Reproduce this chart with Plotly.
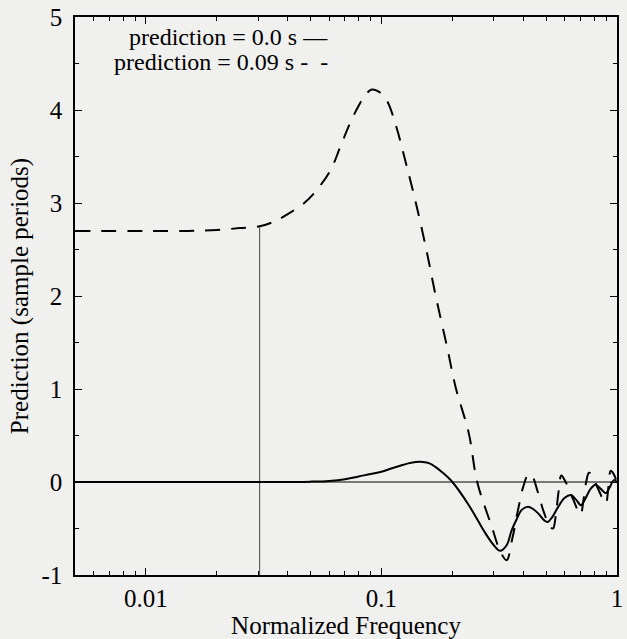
import plotly.graph_objects as go

# Solid curve: prediction = 0.0 s
f_solid = [0.005, 0.02, 0.03, 0.04, 0.05, 0.06, 0.07, 0.08, 0.09, 0.1, 0.11, 0.12, 0.13, 0.14,
           0.15, 0.16, 0.17, 0.18, 0.2, 0.235, 0.276, 0.3, 0.319, 0.34, 0.357, 0.375, 0.394,
           0.419, 0.44, 0.464, 0.49, 0.508, 0.53, 0.562, 0.6, 0.638, 0.67, 0.703, 0.73, 0.77,
           0.81, 0.85, 0.897, 0.93, 0.97, 1.0]
v_solid = [0.0, 0.0, 0.0, 0.001, 0.004, 0.012, 0.03, 0.06, 0.085, 0.11, 0.145, 0.175, 0.2, 0.215,
           0.215, 0.2, 0.16, 0.11, 0.0, -0.25, -0.55, -0.68, -0.74, -0.68, -0.52, -0.4, -0.3,
           -0.265, -0.29, -0.34, -0.41, -0.43, -0.38, -0.27, -0.17, -0.14, -0.19, -0.25, -0.19, -0.08,
           -0.03, -0.07, -0.12, -0.06, 0.02, 0.0]

# Dashed curve: prediction = 0.09 s
f_dash = [0.005, 0.01, 0.015, 0.02, 0.025, 0.0304, 0.035, 0.04, 0.047, 0.0516, 0.0607, 0.0668,
          0.0736, 0.081, 0.086, 0.091, 0.097, 0.105, 0.1156, 0.127, 0.14, 0.155, 0.17, 0.19,
          0.2065, 0.235, 0.255, 0.294, 0.32, 0.34, 0.36, 0.38, 0.40, 0.42, 0.435, 0.46, 0.49,
          0.52, 0.535, 0.55, 0.565, 0.58, 0.60, 0.65, 0.70, 0.72, 0.74, 0.76, 0.78, 0.84, 0.895,
          0.92, 0.94, 0.96, 1.0]
v_dash = [2.7, 2.7, 2.7, 2.71, 2.73, 2.75, 2.8, 2.88, 3.0, 3.1, 3.35, 3.6,
          3.86, 4.07, 4.17, 4.22, 4.2, 4.11, 3.82, 3.43, 3.0, 2.5, 2.0, 1.45,
          1.02, 0.52, 0.0, -0.48, -0.75, -0.84, -0.6, -0.3, -0.05, 0.08, 0.07, -0.1, -0.33,
          -0.48, -0.5, -0.35, -0.1, 0.07, 0.02, -0.18, -0.35, -0.2, 0.0, 0.1, 0.08, -0.1, -0.23,
          -0.05, 0.12, 0.1, 0.0]

# Vertical marker line and zero line
f_marker = [0.0304, 0.0304]
v_marker = [-1, 2.75]
f_zero = [0.005, 1.0]
v_zero = [0, 0]

x_ticks = [0.01, 0.1, 1]
x_ticktext = ["0.01", "0.1", "1"]
x_minor = [0.006, 0.007, 0.008, 0.009, 0.02, 0.03, 0.04, 0.05, 0.06, 0.07, 0.08, 0.09,
           0.2, 0.3, 0.4, 0.5, 0.6, 0.7, 0.8, 0.9]
y_ticks = [-1, 0, 1, 2, 3, 4, 5]
y_ticktext = ["-1", "0", "1", "2", "3", "4", "5"]
y_minor = [-0.5, 0.5, 1.5, 2.5, 3.5, 4.5]

legend_lines = ["prediction = 0.0 s \u2014", "prediction = 0.09 s -  -"]

FONT = "Liberation Serif, Times New Roman, serif"
BG = "#f0f0ef"
FS = 25
FS_LEG = 24

fig = go.Figure()
fig.add_trace(go.Scatter(x=f_zero, y=v_zero, mode="lines",
                         line=dict(color="black", width=1.2), showlegend=False, hoverinfo="skip"))
fig.add_trace(go.Scatter(x=f_marker, y=v_marker, mode="lines",
                         line=dict(color="#444444", width=1), showlegend=False, hoverinfo="skip"))
fig.add_trace(go.Scatter(x=f_solid, y=v_solid, mode="lines", line_shape="spline",
                         line=dict(color="black", width=2), showlegend=False))
fig.add_trace(go.Scatter(x=f_dash, y=v_dash, mode="lines", line_shape="spline",
                         line=dict(color="black", width=2, dash="15px,11px"), showlegend=False))

fig.add_annotation(x=0.471, y=0.9642, xref="paper", yref="paper", text=legend_lines[0],
                   showarrow=False, xanchor="right", yanchor="middle",
                   font=dict(family=FONT, size=FS_LEG, color="black"))
fig.add_annotation(x=0.471, y=0.9194, xref="paper", yref="paper", text=legend_lines[1],
                   showarrow=False, xanchor="right", yanchor="middle",
                   font=dict(family=FONT, size=FS_LEG, color="black"))

fig.update_layout(
    width=627, height=639,
    margin=dict(l=75, r=4, t=17, b=64),
    paper_bgcolor=BG, plot_bgcolor=BG,
    font=dict(family=FONT, size=FS, color="black"),
    showlegend=False,
)
fig.update_xaxes(
    type="log", range=[-2.30103, 0],
    tickvals=x_ticks, ticktext=x_ticktext,
    ticks="inside", ticklen=7, tickwidth=1, tickcolor="black",
    minor=dict(tickvals=x_minor, ticks="inside", ticklen=4, tickcolor="black", showgrid=False),
    showline=True, linecolor="black", linewidth=1.5, mirror="ticks",
    showgrid=False, zeroline=False,
    ticklabeloverflow="allow",
    title=dict(text="Normalized Frequency", standoff=3, font=dict(size=FS)),
    tickfont=dict(size=FS),
)
fig.update_yaxes(
    range=[-1, 5],
    tickvals=y_ticks, ticktext=y_ticktext,
    ticks="inside", ticklen=7, tickwidth=1, tickcolor="black",
    minor=dict(tickvals=y_minor, ticks="inside", ticklen=4, tickcolor="black", showgrid=False),
    showline=True, linecolor="black", linewidth=1.5, mirror="ticks",
    showgrid=False, zeroline=False,
    ticklabelstandoff=6,
    title=dict(text="Prediction (sample periods)", standoff=6, font=dict(size=FS)),
    tickfont=dict(size=FS),
)

fig.write_html("out.html")
